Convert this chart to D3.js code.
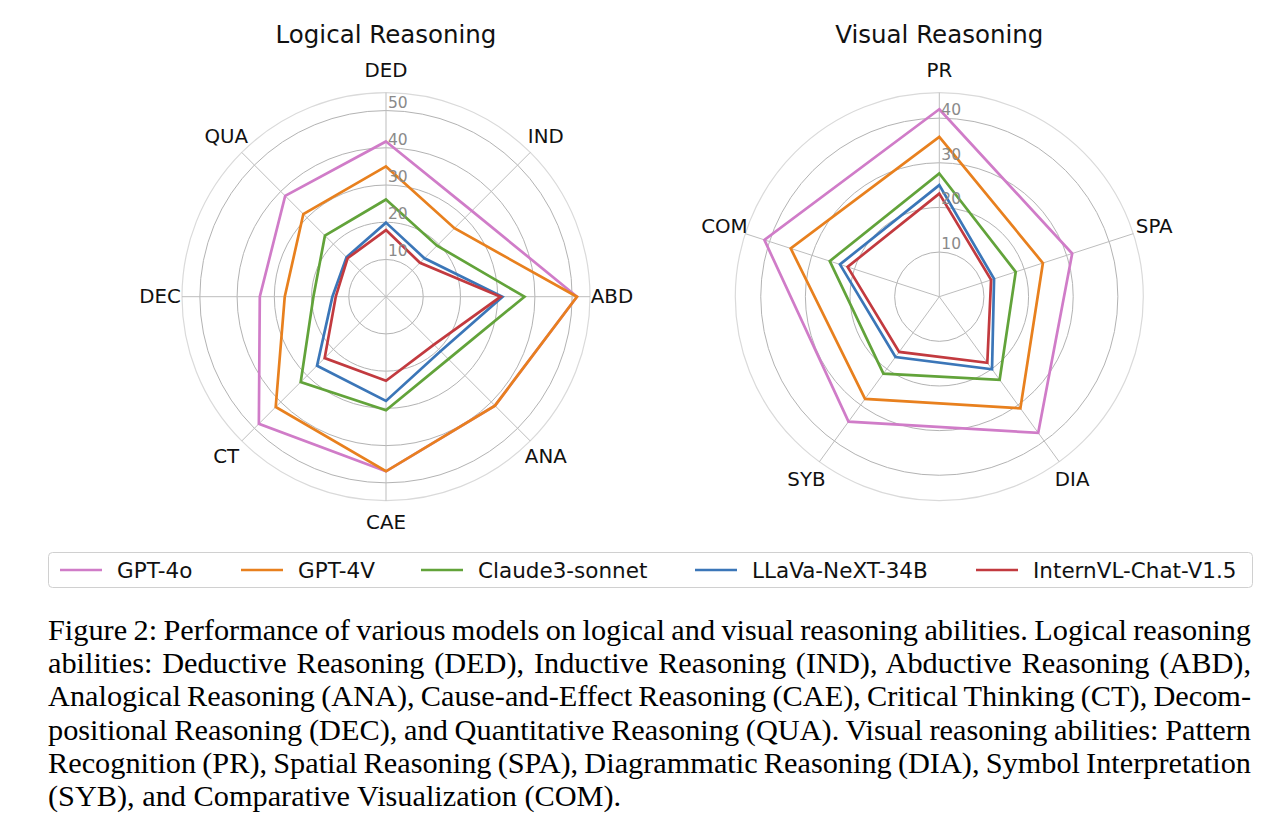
<!DOCTYPE html>
<html>
<head>
<meta charset="utf-8">
<script src="https://cdn.jsdelivr.net/npm/d3@7/dist/d3.min.js"></script>
<style>
  html, body { margin: 0; padding: 0; background: #fff; }
  svg { display: block; }
</style>
</head>
<body>
<svg id="chart" width="1280" height="822"></svg>
<script>
// ---------------- DATA ----------------
const models = ["GPT-4o", "GPT-4V", "Claude3-sonnet", "LLaVa-NeXT-34B", "InternVL-Chat-V1.5"];
const modelColors = ["#d07cc8", "#e8801e", "#62a33a", "#3b76b8", "#c23a3f"];

const logicalCategories = ["DED", "IND", "ABD", "ANA", "CAE", "CT", "DEC", "QUA"];
const logicalGPT4o    = [41.7, 32.6, 51.3, 41.4, 46.9, 48.3, 33.9, 38.3];
const logicalGPT4V    = [35.0, 26.0, 51.3, 41.4, 46.9, 41.9, 27.2, 31.4];
const logicalClaude3  = [26.1, 19.4, 37.2, 23.7, 30.5, 32.4, 19.5, 23.2];
const logicalLLaVa    = [19.9, 14.6, 31.3, 20.7, 28.0, 26.2, 14.4, 15.0];
const logicalInternVL = [17.9, 12.9, 30.8, 18.2, 22.6, 23.3, 13.5, 14.6];
const logicalTicks = [10, 20, 30, 40, 50];

const visualCategories = ["PR", "SPA", "DIA", "SYB", "COM"];
const visualGPT4o    = [42.0, 31.3, 37.7, 34.6, 41.2];
const visualGPT4V    = [35.8, 24.4, 30.9, 28.3, 35.0];
const visualClaude3  = [27.6, 18.0, 23.0, 21.3, 25.8];
const visualLLaVa    = [25.0, 12.9, 20.1, 16.7, 23.4];
const visualInternVL = [23.1, 12.2, 18.3, 15.3, 21.6];
const visualTicks = [10, 20, 30, 40];

const captionLines = [
  "Figure 2: Performance of various models on logical and visual reasoning abilities. Logical reasoning",
  "abilities: Deductive Reasoning (DED), Inductive Reasoning (IND), Abductive Reasoning (ABD),",
  "Analogical Reasoning (ANA), Cause-and-Effect Reasoning (CAE), Critical Thinking (CT), Decom-",
  "positional Reasoning (DEC), and Quantitative Reasoning (QUA). Visual reasoning abilities: Pattern",
  "Recognition (PR), Spatial Reasoning (SPA), Diagrammatic Reasoning (DIA), Symbol Interpretation",
  "(SYB), and Comparative Visualization (COM)."
];

// ---------------- DRAW ----------------
const svg = d3.select("#chart");
const FONT = "DejaVu Sans, Verdana, sans-serif";

function radar(cx, cy, title, cats, seriesList, ticks, rmax) {
  const R = 204;
  const r = d3.scaleLinear().domain([0, rmax]).range([0, R]);
  const n = cats.length;
  const ang = d3.scaleLinear().domain([0, n]).range([0, 2 * Math.PI]);
  const g = svg.append("g").attr("transform", `translate(${cx},${cy})`);

  // grid circles
  g.selectAll("circle.grid").data(ticks).enter().append("circle")
    .attr("r", d => r(d)).attr("fill", "none")
    .attr("stroke", "#b3b3b3").attr("stroke-width", 1);
  // outer boundary
  g.append("circle").attr("r", R).attr("fill", "none")
    .attr("stroke", "#dadada").attr("stroke-width", 1.2);
  // spokes
  g.selectAll("line.spoke").data(cats).enter().append("line")
    .attr("x1", 0).attr("y1", 0)
    .attr("x2", (d, i) => R * Math.sin(ang(i)))
    .attr("y2", (d, i) => -R * Math.cos(ang(i)))
    .attr("stroke", "#bdbdbd").attr("stroke-width", 1);

  // series
  const line = d3.lineRadial()
    .angle((d, i) => ang(i))
    .radius(d => r(d))
    .curve(d3.curveLinearClosed);
  seriesList.forEach((vals, k) => {
    g.append("path").attr("d", line(vals))
      .attr("fill", "none").attr("stroke", modelColors[k])
      .attr("stroke-width", 2.7).attr("stroke-linejoin", "miter");
  });

  // radial tick labels
  g.selectAll("text.rtick").data(ticks).enter().append("text")
    .attr("x", 2).attr("y", d => -r(d) - 3)
    .attr("font-family", FONT).attr("font-size", 15.5)
    .attr("fill", "#8a8a8a").text(d => d);

  // category labels
  const LR = 226;
  g.selectAll("text.cat").data(cats).enter().append("text")
    .attr("x", (d, i) => LR * Math.sin(ang(i)))
    .attr("y", (d, i) => -LR * Math.cos(ang(i)))
    .attr("text-anchor", "middle").attr("dominant-baseline", "central")
    .attr("font-family", FONT).attr("font-size", 19.8)
    .attr("fill", "#111").text(d => d);

  // title
  g.append("text").attr("x", 0).attr("y", -254)
    .attr("text-anchor", "middle")
    .attr("font-family", FONT).attr("font-size", 24.5)
    .attr("fill", "#111").text(title);
}

radar(386, 296.7, "Logical Reasoning", logicalCategories,
  [logicalGPT4o, logicalGPT4V, logicalClaude3, logicalLLaVa, logicalInternVL],
  logicalTicks, 54.8);
radar(939.3, 296.7, "Visual Reasoning", visualCategories,
  [visualGPT4o, visualGPT4V, visualClaude3, visualLLaVa, visualInternVL],
  visualTicks, 45.7);

// ---------------- LEGEND ----------------
const leg = svg.append("g");
leg.append("rect").attr("x", 48.5).attr("y", 552.5).attr("width", 1204).attr("height", 35)
  .attr("rx", 4).attr("fill", "#fff").attr("stroke", "#d0d0d0").attr("stroke-width", 1);
const legTextX = [117, 298, 478, 752, 1033];
models.forEach((m, i) => {
  leg.append("line").attr("x1", legTextX[i] - 57).attr("x2", legTextX[i] - 15)
    .attr("y1", 570).attr("y2", 570)
    .attr("stroke", modelColors[i]).attr("stroke-width", 2.7);
  leg.append("text").attr("x", legTextX[i]).attr("y", 570)
    .attr("dominant-baseline", "central")
    .attr("font-family", FONT).attr("font-size", 21.5)
    .attr("fill", "#111").text(m);
});

// ---------------- CAPTION ----------------
const cap = svg.append("g");
const capLeft = 48, capRight = 1251;
captionLines.forEach((t, i) => {
  const txt = cap.append("text").attr("x", capLeft).attr("y", 640 + i * 33.2)
    .attr("font-family", "Liberation Serif, Times New Roman, serif")
    .attr("font-size", 30.3).attr("fill", "#000").text(t);
  if (i < captionLines.length - 1) {
    const len = txt.node().getComputedTextLength();
    const spaces = (t.match(/ /g) || []).length;
    if (spaces > 0) txt.attr("word-spacing", (capRight - capLeft - len) / spaces);
  }
});
</script>
</body>
</html>
